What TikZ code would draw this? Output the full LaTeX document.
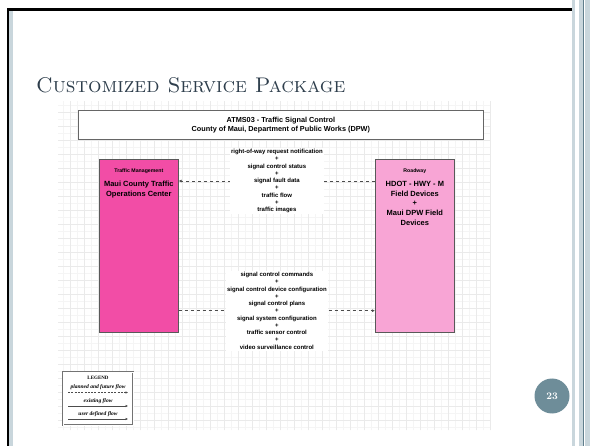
\documentclass[tikz,border=0pt]{standalone}
\usepackage{fontspec}
\newfontfamily\arialfont{Liberation Sans}
\newfontfamily\timesfont{Liberation Serif}
\usetikzlibrary{positioning,arrows.meta}
\definecolor{titleslate}{HTML}{2E3E4C}
\definecolor{edgeblue}{HTML}{C9D6DC}
\definecolor{edgedark}{HTML}{5F7D8B}
\definecolor{tmpink}{HTML}{F24DA6}
\definecolor{rdpink}{HTML}{F8A5D5}
\definecolor{numblue}{HTML}{6E8D99}
\definecolor{gridmajor}{HTML}{EAEAEA}
\definecolor{gridminor}{HTML}{F5F5F5}
\tikzset{
  entity/.style={draw=black!65, line width=0.7pt, anchor=north west, minimum width=79pt, minimum height=173pt, inner sep=0pt},
  captext/.style={font=\arialfont\bfseries\fontsize{5.2}{6}\selectfont, inner sep=0pt},
  nametext/.style={font=\arialfont\bfseries\fontsize{7.5}{9.6}\selectfont, align=center, anchor=north, inner sep=0pt},
  flowtext/.style={font=\arialfont\bfseries\fontsize{6}{7.25}\selectfont, align=center, fill=white, inner sep=1.5pt},
  flow/.style={draw=black!70, line width=0.6pt, dash pattern=on 3.5pt off 2.5pt, -{Latex[length=3pt,width=3pt]}},
  legflow/.style={draw=black!70, line width=0.5pt, -{Latex[length=2.5pt,width=2.5pt]}},
  legtext/.style={font=\timesfont\bfseries\itshape\fontsize{5.5}{6}\selectfont, inner sep=0pt}
}
\begin{document}
\begin{tikzpicture}[x=1pt,y=-1pt]
\useasboundingbox (0,0) rectangle (592,446);
\fill[white] (0,0) rectangle (592,446);
\fill[edgeblue] (9,11) rectangle (13,446);
\draw[line width=2.6pt] (8,446) -- (8,9.5) -- (572,9.5);
\fill[edgeblue] (571.5,0) rectangle (575,446);
\fill[edgeblue] (578.5,0) rectangle (582.5,446);
\fill[edgeblue] (584.5,0) rectangle (590,446);
\draw[edgedark, line width=1pt] (583.3,0) -- (583.3,446);

\node[font=\fontsize{21.2}{25}\selectfont, text=titleslate, anchor=base west, inner sep=0pt] (title) at (36,92.5) {\textsc{Customized Service Package}};

\draw[gridminor, line width=0.3pt, step=7pt] (58,430) grid (490,101);
\draw[gridmajor, line width=0.4pt, step=14pt] (58,430) grid (490,101);

\node[draw=black!60, line width=0.7pt, fill=white, anchor=north west, minimum width=405pt, minimum height=29pt, align=center, font=\arialfont\bfseries\fontsize{7.3}{9}\selectfont] (hdr) at (78,110) {ATMS03 - Traffic Signal Control\\County of Maui, Department of Public Works (DPW)};

\node[entity, fill=tmpink] (tm) at (99,159) {};
\node[entity, fill=rdpink] (rd) at (375,159) {};
\node[captext] (tmcap) at ([yshift=-12pt]tm.north) {Traffic Management};
\node[nametext] (tmname) at ([yshift=-22.3pt]tm.north) {Maui County Traffic\\Operations Center};
\node[captext] (rdcap) at ([yshift=-12pt]rd.north) {Roadway};
\node[nametext] (rdname) at ([yshift=-22.3pt]rd.north) {HDOT - HWY - M\\Field Devices\\+\\Maui DPW Field\\Devices};

\draw[flow] ([yshift=-22pt]rd.north west) -- ([yshift=-22pt]tm.north east) node[midway, flowtext] (upflow) {right-of-way request notification\\+\\signal control status\\+\\signal fault data\\+\\traffic flow\\+\\traffic images};
\draw[flow] ([yshift=22pt]tm.south east) -- ([yshift=22pt]rd.south west) node[midway, flowtext] (downflow) {signal control commands\\+\\signal control device configuration\\+\\signal control plans\\+\\signal system configuration\\+\\traffic sensor control\\+\\video surveillance control};

\node[draw=black!55, line width=0.5pt, double=white, double distance=1pt, fill=white, anchor=north west, minimum width=70pt, minimum height=53pt] (legend) at (63,372) {};
\node[legtext, font=\timesfont\bfseries\fontsize{5}{6}\selectfont] (lgtitle) at (98,377.5) {LEGEND};
\node[legtext] (lgplan) at (98,387) {planned and future flow};
\coordinate (lgplana) at (68,392.5);
\coordinate (lgplanb) at (128,392.5);
\draw[legflow, dash pattern=on 2pt off 1.3pt] (lgplana) -- (lgplanb);
\node[legtext] (lgexist) at (98,401) {existing flow};
\coordinate (lgexista) at (68,406);
\coordinate (lgexistb) at (128,406);
\draw[legflow] (lgexista) -- (lgexistb);
\node[legtext] (lguser) at (98,414) {user defined flow};
\coordinate (lgusera) at (68,419);
\coordinate (lguserb) at (128,419);
\draw[legflow] (lgusera) -- (lguserb);

\node[circle, fill=numblue, minimum size=35pt, inner sep=0pt, text=white, font=\bfseries\fontsize{10}{12}\selectfont] (pagenum) at (552,396) {23};
\end{tikzpicture}
\end{document}
